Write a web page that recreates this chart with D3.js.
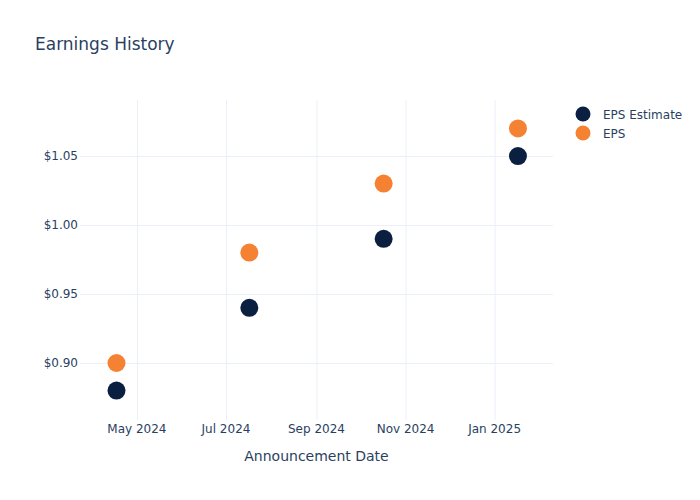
<!DOCTYPE html>
<html>
<head>
<meta charset="utf-8">
<script src="https://cdn.jsdelivr.net/npm/d3@7"></script>
<style>
  body { margin: 0; background: #fff; }
  svg { font-family: "DejaVu Sans", Verdana, sans-serif; }
  .grid line { stroke: #ebf0f8; stroke-width: 1; }
  .grid path { display: none; }
  .tick-label { fill: #2a3f5f; font-size: 12px; }
</style>
</head>
<body>
<svg id="chart" width="700" height="500"></svg>
<script>
  const dates = ["2024-04-17", "2024-07-17", "2024-10-17", "2025-01-17"];
  const epsEstimate = [0.88, 0.94, 0.99, 1.05];
  const epsActual = [0.90, 0.98, 1.03, 1.07];
  const yTicks = [0.90, 0.95, 1.00, 1.05];
  const xTickDates = ["2024-05-01", "2024-07-01", "2024-09-01", "2024-11-01", "2025-01-01"];
  const xDomain = ["2024-03-23", "2025-02-10"];
  const yDomain = [0.8587, 1.0906];
  const seriesNames = ["EPS Estimate", "EPS"];
  const seriesColors = ["#0b1f41", "#f58232"];

  const width = 700;
  const height = 500;
  const margin = { top: 100, right: 147, bottom: 80, left: 80 };
  const innerWidth = width - margin.left - margin.right;
  const innerHeight = height - margin.top - margin.bottom;

  const parseDate = d3.utcParse("%Y-%m-%d");
  const formatDate = d3.utcFormat("%b %Y");
  const svg = d3.select("#chart");

  const x = d3
    .scaleUtc()
    .domain(xDomain.map(parseDate))
    .range([0, innerWidth]);

  const y = d3.scaleLinear().domain(yDomain).range([innerHeight, 0]);

  const g = svg
    .append("g")
    .attr("transform", `translate(${margin.left},${margin.top})`);

  // grid lines
  g.append("g")
    .attr("class", "grid")
    .call(
      d3.axisBottom(x)
        .tickValues(xTickDates.map(parseDate))
        .tickSize(innerHeight)
        .tickFormat("")
    );

  g.append("g")
    .attr("class", "grid")
    .call(
      d3.axisLeft(y)
        .tickValues(yTicks)
        .tickSize(-innerWidth)
        .tickFormat("")
    );

  // tick labels
  g.append("g")
    .selectAll("text")
    .data(xTickDates.map(parseDate))
    .join("text")
    .attr("class", "tick-label")
    .attr("x", (d) => x(d))
    .attr("y", innerHeight + 13)
    .attr("text-anchor", "middle")
    .text((d) => formatDate(d));

  g.append("g")
    .selectAll("text")
    .data(yTicks)
    .join("text")
    .attr("class", "tick-label")
    .attr("x", -2)
    .attr("y", (d) => y(d) + 4)
    .attr("text-anchor", "end")
    .text((d) => `$${d.toFixed(2)}`);

  g.append("text")
    .attr("x", innerWidth / 2)
    .attr("y", innerHeight + 41)
    .attr("text-anchor", "middle")
    .attr("fill", "#2a3f5f")
    .style("font-size", "14px")
    .text("Announcement Date");

  // points
  const seriesData = [epsEstimate, epsActual];
  seriesData.forEach((values, i) => {
    g.append("g")
      .selectAll("circle")
      .data(values.map((v, j) => ({ date: parseDate(dates[j]), value: v })))
      .join("circle")
      .attr("cx", (d) => x(d.date))
      .attr("cy", (d) => y(d.value))
      .attr("r", 9)
      .attr("fill", seriesColors[i]);
  });

  // title
  svg.append("text")
    .attr("x", 35)
    .attr("y", 50)
    .attr("fill", "#2a3f5f")
    .style("font-size", "17px")
    .text("Earnings History");

  // legend
  const legend = svg.append("g").attr("transform", "translate(583,114)");
  seriesNames.forEach((name, i) => {
    const row = legend.append("g").attr("transform", `translate(0,${i * 19})`);
    row.append("circle").attr("r", 7.5).attr("fill", seriesColors[i]);
    row.append("text")
      .attr("x", 20)
      .attr("y", 4.5)
      .attr("fill", "#2a3f5f")
      .style("font-size", "12px")
      .text(name);
  });
</script>
</body>
</html>
